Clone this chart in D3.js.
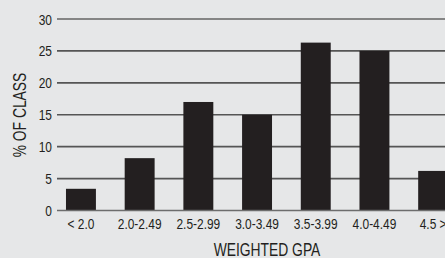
<!DOCTYPE html>
<html>
<head>
<meta charset="utf-8">
<script src="https://cdn.jsdelivr.net/npm/d3@7"></script>
<style>
	body { margin: 0; background: #e6e7e8; }
	svg { display: block; }
	text { font-family: "Liberation Sans", Arial, sans-serif; fill: #231f20; }
</style>
</head>
<body>
<div id="chart"></div>
<script>
	var categories = ["< 2.0", "2.0-2.49", "2.5-2.99", "3.0-3.49", "3.5-3.99", "4.0-4.49", "4.5 >"];
	var values = [3.4, 8.2, 17, 15, 26.3, 25, 6.2];
	var yTicks = [0, 5, 10, 15, 20, 25, 30];

	var width = 445, height = 258;
	// condensed look: squeeze the regular face sideways
	var squeeze = 0.77;

	var svg = d3.select("#chart").append("svg")
		.attr("width", width)
		.attr("height", height)

	var x = d3.scaleBand()
		.domain(categories)
		.range([51.6, 51.6 + 7 * 58.7])
		.paddingInner(0.49)
		.paddingOuter(0.245)

	var y = d3.scaleLinear()
		.domain([0, 30])
		.range([210.5, 19])

	function place(px, py, rot) {
		return "translate(" + px + "," + py + ")" + (rot ? " rotate(" + rot + ")" : "") + " scale(" + squeeze + ",1)";
	}

	// grid lines
	svg.append("g").selectAll("line")
		.data(yTicks.filter(function(d){ return d > 0; }))
		.enter().append("line")
		.attr("x1", 57)
		.attr("x2", width)
		.attr("y1", function(d){ return y(d); })
		.attr("y2", function(d){ return y(d); })
		.attr("stroke", function(d){ return d == 30 ? "#858585" : "#555555"; })
		.attr("stroke-width", function(d){ return d == 30 ? 2 : 1.6; })

	// bars
	svg.append("g").selectAll("rect")
		.data(values)
		.enter().append("rect")
		.attr("x", function(d, i){ return x(categories[i]); })
		.attr("y", function(d){ return y(d); })
		.attr("width", x.bandwidth())
		.attr("height", function(d){ return y(0) - y(d); })
		.attr("fill", "#231f20")

	// baseline
	svg.append("line")
		.attr("x1", 57)
		.attr("x2", width)
		.attr("y1", y(0))
		.attr("y2", y(0))
		.attr("stroke", "#6d6d6d")
		.attr("stroke-width", 1.6)

	// y tick labels
	svg.append("g").selectAll("text")
		.data(yTicks)
		.enter().append("text")
		.attr("transform", function(d){ return place(52, y(d) + 5.5); })
		.attr("text-anchor", "end")
		.attr("font-size", "15.5px")
		.text(function(d){ return d; })

	// x tick labels
	svg.append("g").selectAll("text")
		.data(categories)
		.enter().append("text")
		.attr("transform", function(d){ return place(x(d) + x.bandwidth() / 2, 229); })
		.attr("text-anchor", "middle")
		.attr("font-size", "15.5px")
		.text(function(d){ return d; })

	// axis titles
	svg.append("text")
		.attr("transform", place(267, 256))
		.attr("text-anchor", "middle")
		.attr("font-size", "18px")
		.text("WEIGHTED GPA")

	svg.append("text")
		.attr("transform", place(26, 115, -90))
		.attr("text-anchor", "middle")
		.attr("font-size", "18px")
		.text("% OF CLASS")
</script>
</body>
</html>
